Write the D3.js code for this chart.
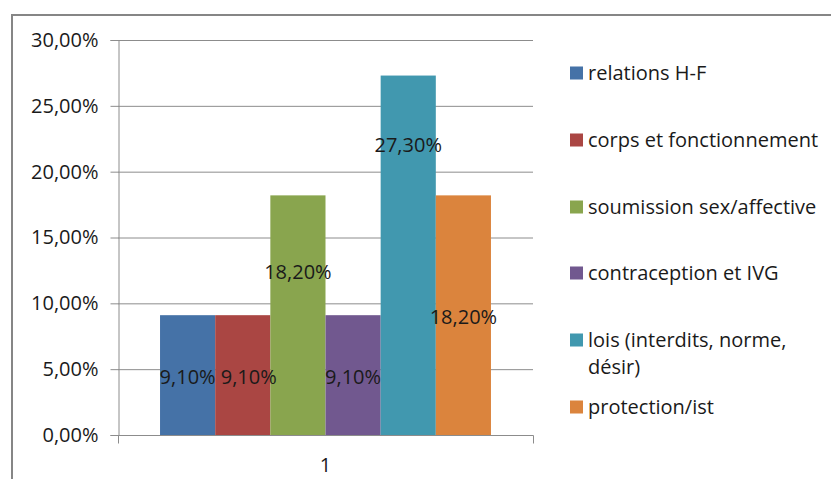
<!DOCTYPE html>
<html>
<head>
<meta charset="utf-8">
<script src="https://cdn.jsdelivr.net/npm/d3@7"></script>
<style>
    body { margin: 0; background: #fff; }
    text { font-family: "Open Sans", sans-serif; fill: #1a1a1a; }
</style>
</head>
<body>
<div id="chart"></div>
<script>
// data
var categories = ['1'];
var seriesNames = ['relations H-F', 'corps et fonctionnement', 'soumission sex/affective',
    'contraception et IVG', 'lois (interdits, norme, désir)', 'protection/ist'];
var seriesValues = [9.1, 9.1, 18.2, 9.1, 27.3, 18.2];
var seriesColors = ['#4572A7', '#AA4643', '#89A54E', '#71588F', '#4198AF', '#DB843D'];
// where the value labels were dragged to (in % units), and small x nudges
var labelAt = [4.4, 4.4, 12.4, 4.4, 22.0, 9.0];
var labelDx = [0, 6, 0, 0, 0, 0];
var yTicks = [0, 5, 10, 15, 20, 25, 30];

var W = 831, H = 479;
var plot = {left: 118, right: 533, top: 40, bottom: 435};
var fontSize = '20px';

var svg = d3.select('#chart').append('svg').attr('width', W).attr('height', H);

// outer chart border
svg.append('rect').attr('x', 12).attr('y', 15).attr('width', W + 20).attr('height', H + 20)
    .attr('fill', 'none').attr('stroke', '#868686').attr('stroke-width', 2);

var y = d3.scaleLinear().domain([0, 30]).range([plot.bottom, plot.top]);
var x0 = d3.scaleBand().domain(categories).range([plot.left, plot.right]).paddingInner(0).paddingOuter(0.127);
var x1 = d3.scaleBand().domain(d3.range(seriesNames.length)).range([0, x0.bandwidth()]);

var fmt = function(v) { return v.toFixed(2).replace('.', ',') + '%'; };

// gridlines
svg.append('g').selectAll('line').data(yTicks.slice(1)).enter().append('line')
    .attr('x1', plot.left).attr('x2', plot.right)
    .attr('y1', function(d) { return y(d) + 0.5; }).attr('y2', function(d) { return y(d) + 0.5; })
    .attr('stroke', '#8c8c8c').attr('stroke-width', 1);

// y axis
var yAxis = svg.append('g').attr('transform', 'translate(' + (plot.left + 0.5) + ',0)')
    .call(d3.axisLeft(y).tickValues(yTicks).tickSize(8).tickPadding(12).tickFormat(fmt));
yAxis.select('.domain').attr('stroke', '#8c8c8c');
yAxis.selectAll('.tick line').attr('stroke', '#8c8c8c');
yAxis.selectAll('text').style('font-size', fontSize).attr('fill', '#1a1a1a');

// bars
var grp = svg.append('g').attr('transform', 'translate(' + x0(categories[0]) + ',0)');
grp.selectAll('rect').data(seriesValues).enter().append('rect')
    .attr('x', function(d, i) { return x1(i); })
    .attr('width', x1.bandwidth())
    .attr('y', function(d) { return y(d); })
    .attr('height', function(d) { return y(0) - y(d); })
    .attr('fill', function(d, i) { return seriesColors[i]; });

grp.selectAll('text').data(seriesValues).enter().append('text')
    .attr('x', function(d, i) { return x1(i) + x1.bandwidth() / 2 + labelDx[i]; })
    .attr('y', function(d, i) { return y(labelAt[i]); })
    .attr('dy', '0.35em')
    .attr('text-anchor', 'middle')
    .style('font-size', fontSize)
    .text(function(d) { return fmt(d); });

// x axis
var xAxis = svg.append('g').attr('transform', 'translate(0,' + (plot.bottom + 0.5) + ')')
    .call(d3.axisBottom(x0).tickSize(0).tickPadding(22));
xAxis.select('.domain').attr('stroke', '#8c8c8c').attr('d', 'M' + (plot.left + 0.5) + ',8V0H' + (plot.right + 0.5) + 'V8');
xAxis.selectAll('text').style('font-size', fontSize).attr('fill', '#1a1a1a');

// legend
var legendY = [73, 140, 207, 273, 340, 407];
var leg = svg.append('g').selectAll('g').data(seriesNames).enter().append('g')
    .attr('transform', function(d, i) { return 'translate(570,' + legendY[i] + ')'; });
leg.append('rect').attr('x', 0).attr('y', -6.5).attr('width', 13).attr('height', 13)
    .attr('fill', function(d, i) { return seriesColors[i]; });
leg.each(function(d) {
    var t = d3.select(this).append('text').attr('x', 18).attr('dy', '0.35em').style('font-size', fontSize);
    if (d.indexOf('désir') > -1) {
        t.append('tspan').attr('x', 18).text('lois (interdits, norme,');
        t.append('tspan').attr('x', 18).attr('dy', '1.35em').text('désir)');
    } else {
        t.text(d);
    }
});
</script>
</body>
</html>
